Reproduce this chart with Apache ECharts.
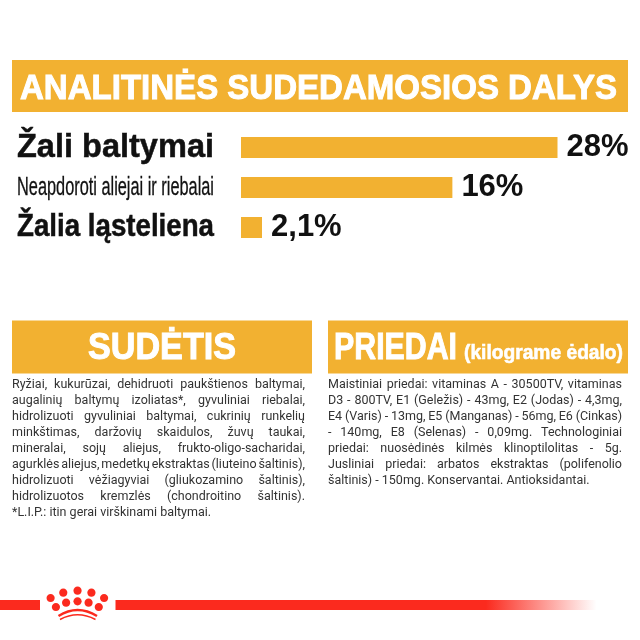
<!DOCTYPE html>
<html><head><meta charset="utf-8">
<style>html,body{margin:0;padding:0;background:#fff}#c{width:640px;height:640px}</style>
<script src="https://cdn.jsdelivr.net/npm/echarts@6/dist/echarts.min.js"></script>
</head><body><div id="c"></div>
<script>
const categories = ['Žali baltymai', 'Neapdoroti aliejai ir riebalai', 'Žalia ląsteliena'];
const categoryFonts = ['700 33px', '400 26px', '700 31px'];
const valueLabels = ['28%', '16%', '2,1%'];
// bar lengths as drawn in the picture, on the scale of the longest bar (28)
const barLengths = [28, 18.7, 1.86];
const mainTitle = 'ANALITINĖS SUDEDAMOSIOS DALYS';
const leftTitle = 'SUDĖTIS';
const rightTitle = 'PRIEDAI';
const rightSubtitle = '(kilograme ėdalo)';
const leftLines = [
 'Ryžiai, kukurūzai, dehidruoti paukštienos baltymai,',
 'augalinių baltymų izoliatas*, gyvuliniai riebalai,',
 'hidrolizuoti gyvuliniai baltymai, cukrinių runkelių',
 'minkštimas, daržovių skaidulos, žuvų taukai,',
 'mineralai, sojų aliejus, frukto-oligo-sacharidai,',
 'agurklės aliejus, medetkų ekstraktas (liuteino šaltinis),',
 'hidrolizuoti vėžiagyviai (gliukozamino šaltinis),',
 'hidrolizuotos kremzlės (chondroitino šaltinis).',
 '*L.I.P.: itin gerai virškinami baltymai.'
];
const rightLines = [
 'Maistiniai priedai: vitaminas A - 30500TV, vitaminas',
 'D3 - 800TV, E1 (Geležis) - 43mg, E2 (Jodas) - 4,3mg,',
 'E4 (Varis) - 13mg, E5 (Manganas) - 56mg, E6 (Cinkas)',
 '- 140mg, E8 (Selenas) - 0,09mg. Technologiniai',
 'priedai: nuosėdinės kilmės klinoptilolitas - 5g.',
 'Jusliniai priedai: arbatos ekstraktas (polifenolio',
 'šaltinis) - 150mg. Konservantai. Antioksidantai.'
];
const ORANGE = '#F2B131', RED = '#FB2A1E', TEXT = '#333333';
const HEAD = '"Liberation Sans",sans-serif';
const BODY = 'Roboto,sans-serif';
const mc = document.createElement('canvas').getContext('2d');
function tw(t, f){ mc.font = f; return mc.measureText(t).width; }
const g = [];
function fit(text, font, x, cy, width, fill, bold){
  const s = width / tw(text, font);
  const style = {text, font, fill, align:'left', verticalAlign:'middle'};
  if (bold) { style.stroke = fill; style.lineWidth = bold; }
  g.push({type:'text', x, y:cy, scaleX:s, z:5, style});
}
function rect(x,y,w,h,fill){ g.push({type:'rect', shape:{x,y,width:w,height:h}, z:1, style:{fill}}); }
function para(lines, x, width, y0, dy){
  const font = '400 12.5px ' + BODY;
  lines.forEach((ln,i)=>{
    const y = y0 + i*dy, words = ln.split(' ');
    const last = i === lines.length-1;
    const sum = words.reduce((a,w)=>a+tw(w,font),0);
    const sp = tw(' ',font);
    const gap = last ? sp : (width-sum)/(words.length-1);
    let cx = x;
    words.forEach(w=>{
      g.push({type:'text', x:cx, y, z:5, style:{text:w, font, fill:TEXT, align:'left', verticalAlign:'middle'}});
      cx += tw(w,font)+gap;
    });
  });
}
rect(12,60,616,52,ORANGE);
rect(12,320.5,300,53,ORANGE);
rect(328,320.5,300,53,ORANGE);
fit(mainTitle,'700 35px '+HEAD,20,89.5,597,'#fff',1);
fit(leftTitle,'700 37px '+HEAD,88,348.5,148,'#fff',1);
fit(rightTitle,'700 37px '+HEAD,334,348.5,123,'#fff',1);
fit(rightSubtitle,'700 20px '+HEAD,464,353,159,'#fff',0.6);
para(leftLines,12,293,384.5,16.07);
para(rightLines,328,294,384.5,16.07);
// footer rule
rect(0,600,40,10,RED);
g.push({type:'rect',shape:{x:115.5,y:600,width:481,height:10},z:1,style:{fill:{type:'linear',x:0,y:0,x2:1,y2:0,colorStops:[
 {offset:0,color:RED},{offset:0.77,color:RED},{offset:1,color:'rgba(251,42,30,0)'}]}}});
// crown
[[124,84],[155,68],[190,62],[224,68],[255,84],[137,111],[162,98],[190,94],[217,98],[242,111]].forEach(p=>{
  g.push({type:'ellipse',shape:{cx:p[0]/2.45,cy:570+p[1]/3,rx:4.1,ry:4.1},z:5,style:{fill:RED}});
});
g.push({type:'bezierCurve',z:5,shape:{x1:58.5,y1:616,cpx1:77.5,cpy1:604,x2:97,y2:616},style:{stroke:RED,lineWidth:2.4,fill:null}});
g.push({type:'bezierCurve',z:5,shape:{x1:60,y1:619.5,cpx1:77.5,cpy1:610,x2:95.5,y2:619.5},style:{stroke:RED,lineWidth:1.6,fill:null}});

const chart = echarts.init(document.getElementById('c'), null, {renderer:'canvas'});
chart.setOption({
  animation:false,
  backgroundColor:'#fff',
  grid:{left:241, top:127.5, width:316.5, height:120},
  xAxis:{type:'value', min:0, max:28, show:false},
  yAxis:{type:'category', inverse:true, data:categories,
    axisLine:{show:false}, axisTick:{show:false}, splitLine:{show:false},
    axisLabel:{show:false}},
  series:[{type:'bar', data:barLengths, barWidth:21, itemStyle:{color:ORANGE},
    label:{show:true, position:'right', distance:9,
      formatter:p=>valueLabels[p.dataIndex],
      fontFamily:HEAD, fontWeight:700, fontSize:31, color:'#111'}}]
});
categories.forEach((c,i)=>{
  const cy = chart.convertToPixel({yAxisIndex:0}, i);
  fit(c, categoryFonts[i]+' '+HEAD, 17, cy, 197, '#111', i===1 ? 0.3 : 0.5);
});
chart.setOption({graphic:g});
</script></body></html>
